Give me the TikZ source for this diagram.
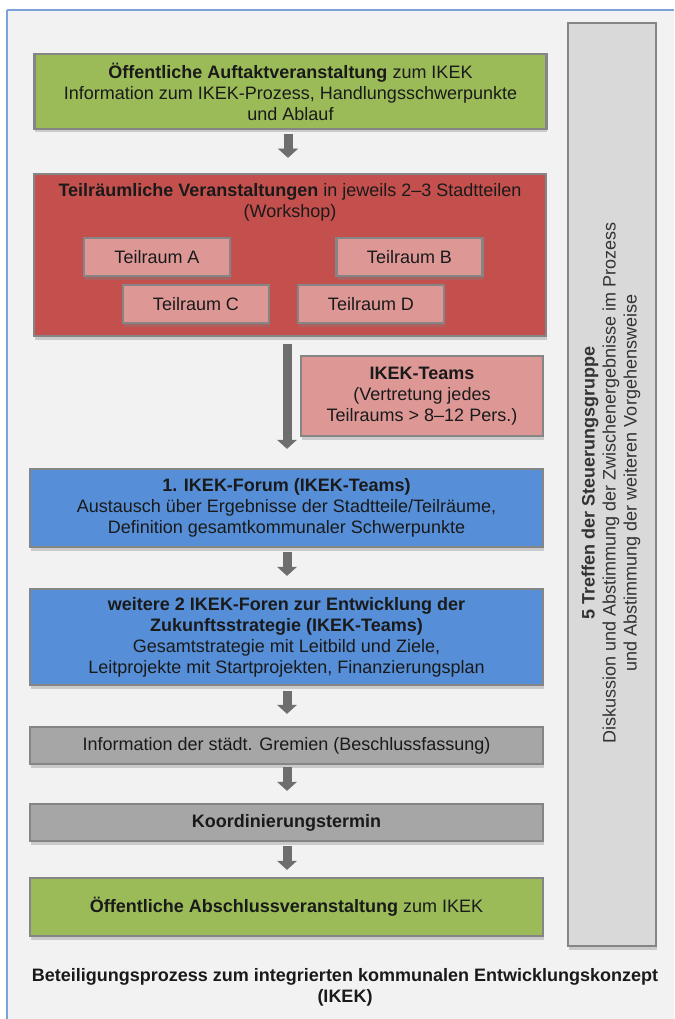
\documentclass[tikz,border=0pt]{standalone}
\usepackage{fontspec}
\setmainfont{Liberation Sans}
\usetikzlibrary{shadows,arrows.meta}
\definecolor{bg}{HTML}{F2F2F2}
\definecolor{frameblue}{HTML}{7DA2DA}
\definecolor{boxborder}{HTML}{858585}
\definecolor{greenfill}{HTML}{9BBB59}
\definecolor{redfill}{HTML}{C4504E}
\definecolor{pinkfill}{HTML}{DD9896}
\definecolor{bluefill}{HTML}{568FD8}
\definecolor{grayfill}{HTML}{A6A6A6}
\definecolor{sidefill}{HTML}{D9D9D9}
\definecolor{arrowgray}{HTML}{6E6E6E}
\definecolor{txt}{HTML}{1A1A1A}
\definecolor{sidetxt}{HTML}{333333}
\begin{document}
\begin{tikzpicture}[x=1pt,y=-1pt,
  font=\fontsize{18}{21}\selectfont,
  box/.style={draw=boxborder, line width=2.5pt, inner sep=0pt, align=center, text=txt,
    drop shadow={shadow xshift=0.5pt, shadow yshift=-3.5pt, opacity=0.35}},
  wide/.style={box, minimum width=512pt},
  teil/.style={box, fill=pinkfill, minimum width=146pt, minimum height=38pt},
  flow/.style={draw=arrowgray, line width=9pt, -{Triangle[width=20pt,length=9pt,line width=0.5pt]}},
  plain/.style={inner sep=0pt, align=center, text=txt}]
\useasboundingbox (0,0) rectangle (674,1019);
\fill[white] (0,0) rectangle (674,1019);
\fill[bg] (7,10) rectangle (674,1019);
\draw[frameblue, line width=1.2pt] (7,10) -- (674,10);
\draw[frameblue, line width=2pt] (7,10) -- (7,1019);

% side box
\node[box, fill=sidefill, minimum width=88pt, minimum height=923pt] (side) at (612,484.5) {};
\node[plain, text=sidetxt, rotate=90] (sidetext) at (611,483)
  {\textbf{5 Treffen der Steuerungsgruppe}\\Diskussion und Abstimmung der Zwischenergebnisse im Prozess\\und Abstimmung der weiteren Vorgehensweise};

% boxes
\node[wide, fill=greenfill, minimum height=75pt] (g1) at (290.5,91.5)
  {\textbf{Öffentliche Auftaktveranstaltung} zum IKEK\\Information zum IKEK-Prozess, Handlungsschwerpunkte\\und Ablauf};
\node[wide, fill=redfill, minimum height=162pt] (red) at (290,255) {};
\node[plain] (redtitle) at (290,202)
  {\textbf{Teilräumliche Veranstaltungen} in jeweils 2–3 Stadtteilen\\(Workshop)};
\node[teil] (ta) at (157,257) {Teilraum A};
\node[teil] (tb) at (409.5,257) {Teilraum B};
\node[teil] (tc) at (196,304) {Teilraum C};
\node[teil] (td) at (371,304) {Teilraum D};
\node[box, fill=pinkfill, minimum width=242pt, minimum height=80pt] (teams) at (422,396)
  {\textbf{IKEK-Teams}\\(Vertretung jedes\\Teilraums > 8–12 Pers.)};
\node[wide, fill=bluefill, minimum width=513pt, minimum height=78pt] (b1) at (286.5,508)
  {\textbf{1. IKEK-Forum (IKEK-Teams)}\\Austausch über Ergebnisse der Stadtteile/Teilräume,\\Definition gesamtkommunaler Schwerpunkte};
\node[wide, fill=bluefill, minimum width=513pt, minimum height=96pt] (b2) at (286.5,637)
  {\textbf{weitere 2 IKEK-Foren zur Entwicklung der}\\\textbf{Zukunftsstrategie (IKEK-Teams)}\\Gesamtstrategie mit Leitbild und Ziele,\\Leitprojekte mit Startprojekten, Finanzierungsplan};
\node[wide, fill=grayfill, minimum width=513pt, minimum height=37pt] (gr1) at (286.5,745.5)
  {Information der städt. Gremien (Beschlussfassung)};
\node[wide, fill=grayfill, minimum width=513pt, minimum height=37pt] (gr2) at (286.5,822.5)
  {\textbf{Koordinierungstermin}};
\node[wide, fill=greenfill, minimum width=513pt, minimum height=58pt] (g2) at (286.5,907)
  {\textbf{Öffentliche Abschlussveranstaltung} zum IKEK};

\node[plain] (caption) at (345,987)
  {\textbf{Beteiligungsprozess zum integrierten kommunalen Entwicklungskonzept}\\\textbf{(IKEK)}};

% arrows
\draw[flow, shorten <=4pt, shorten >=15pt] ([xshift=-2.5pt]g1.south) -- ([xshift=-2pt]red.north);
\draw[flow, shorten <=7pt, shorten >=19pt] ([xshift=-3pt]red.south) -- ([xshift=0.5pt]b1.north);
\draw[flow, shorten <=4pt, shorten >=12pt] ([xshift=0.5pt]b1.south) -- ([xshift=0.5pt]b2.north);
\draw[flow, shorten <=5pt, shorten >=12pt] ([xshift=0.5pt]b2.south) -- ([xshift=0.5pt]gr1.north);
\draw[flow, shorten <=2pt, shorten >=12pt] ([xshift=0.5pt]gr1.south) -- ([xshift=0.5pt]gr2.north);
\draw[flow, shorten <=4pt, shorten >=7pt] ([xshift=0.5pt]gr2.south) -- ([xshift=0.5pt]g2.north);
\end{tikzpicture}
\end{document}
